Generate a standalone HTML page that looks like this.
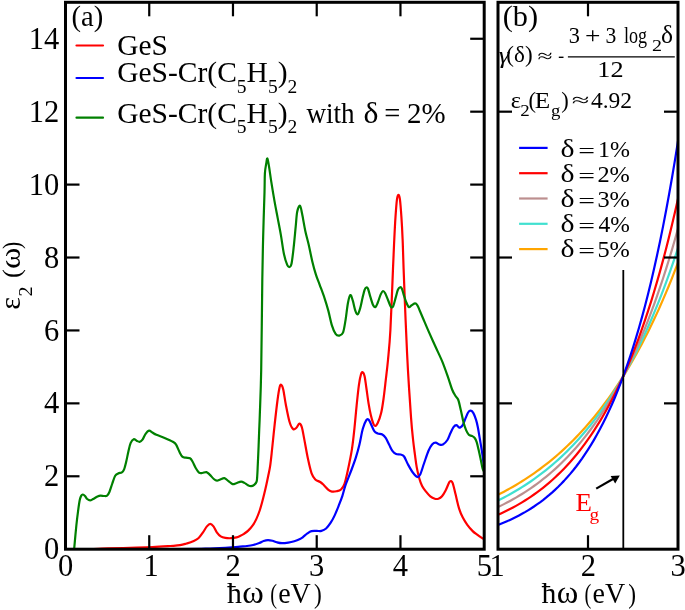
<!DOCTYPE html><html><head><meta charset="utf-8"><style>html,body{margin:0;padding:0;background:#fff;overflow:hidden}svg{display:block;will-change:transform}text{font-family:"Liberation Serif",serif}</style></head><body>
<svg width="685" height="610" viewBox="0 0 685 610">
<clipPath id="ca"><rect x="65.50" y="2.30" width="418.70" height="546.90"/></clipPath>
<g clip-path="url(#ca)" fill="none" stroke-width="2.2" stroke-linejoin="round" stroke-linecap="round">
<path stroke="#ff0000" d="M90.00,549.20 C92.98,549.07 101.23,548.63 107.90,548.40 C114.57,548.17 122.57,548.02 130.00,547.80 C137.43,547.58 145.82,547.40 152.50,547.10 C159.18,546.80 165.52,546.32 170.10,546.00 C174.68,545.68 177.25,545.62 180.00,545.20 C182.75,544.78 184.42,544.15 186.60,543.50 C188.78,542.85 191.13,542.18 193.10,541.30 C195.07,540.42 196.75,539.70 198.40,538.20 C200.05,536.70 201.58,534.27 203.00,532.30 C204.42,530.33 205.70,527.82 206.90,526.40 C208.10,524.98 209.10,523.80 210.20,523.80 C211.30,523.80 212.40,524.98 213.50,526.40 C214.60,527.82 215.60,530.65 216.80,532.30 C218.00,533.95 219.28,535.37 220.70,536.30 C222.12,537.23 223.55,537.58 225.30,537.90 C227.05,538.22 229.33,538.28 231.20,538.20 C233.07,538.12 235.03,537.77 236.50,537.40 C237.97,537.03 238.75,536.60 240.00,536.00 C241.25,535.40 242.63,534.70 244.00,533.80 C245.37,532.90 246.68,532.10 248.20,530.60 C249.72,529.10 251.73,526.75 253.10,524.80 C254.47,522.85 255.30,521.28 256.40,518.90 C257.50,516.52 258.75,513.27 259.70,510.50 C260.65,507.73 261.35,505.03 262.10,502.30 C262.85,499.57 263.50,496.98 264.20,494.10 C264.90,491.22 265.60,488.18 266.30,485.00 C267.00,481.82 267.75,478.23 268.40,475.00 C269.05,471.77 269.60,469.77 270.20,465.60 C270.80,461.43 271.25,456.90 272.00,450.00 C272.75,443.10 273.77,432.62 274.70,424.20 C275.63,415.78 276.78,405.67 277.60,399.50 C278.42,393.33 278.98,389.65 279.60,387.20 C280.22,384.75 280.68,384.38 281.30,384.80 C281.92,385.22 282.55,386.42 283.30,389.70 C284.05,392.98 284.77,399.17 285.80,404.50 C286.83,409.83 288.27,417.60 289.50,421.70 C290.73,425.80 292.05,428.08 293.20,429.10 C294.35,430.12 295.38,428.70 296.40,427.80 C297.42,426.90 298.40,423.82 299.30,423.70 C300.20,423.58 300.98,424.57 301.80,427.10 C302.62,429.63 303.18,433.65 304.20,438.90 C305.22,444.15 306.67,452.85 307.90,458.60 C309.13,464.35 310.37,469.92 311.60,473.40 C312.83,476.88 313.87,478.07 315.30,479.50 C316.73,480.93 318.77,481.05 320.20,482.00 C321.63,482.95 322.53,483.90 323.90,485.20 C325.27,486.50 327.07,488.73 328.40,489.80 C329.73,490.87 330.55,491.35 331.90,491.60 C333.25,491.85 334.98,491.65 336.50,491.30 C338.02,490.95 339.67,490.75 341.00,489.50 C342.33,488.25 343.35,487.05 344.50,483.80 C345.65,480.55 346.67,475.73 347.90,470.00 C349.13,464.27 350.82,456.27 351.90,449.40 C352.98,442.53 353.62,436.07 354.40,428.80 C355.18,421.53 355.85,413.07 356.60,405.80 C357.35,398.53 358.17,390.45 358.90,385.20 C359.63,379.95 360.37,376.45 361.00,374.30 C361.63,372.15 362.10,371.98 362.70,372.30 C363.30,372.62 364.00,373.67 364.60,376.20 C365.20,378.73 365.63,382.93 366.30,387.50 C366.97,392.07 367.85,399.02 368.60,403.60 C369.35,408.18 370.05,411.77 370.80,415.00 C371.55,418.23 372.40,421.17 373.10,423.00 C373.80,424.83 374.23,426.00 375.00,426.00 C375.77,426.00 376.67,425.22 377.70,423.00 C378.73,420.78 380.23,416.70 381.20,412.70 C382.17,408.70 382.75,404.35 383.50,399.00 C384.25,393.65 384.95,387.10 385.70,380.60 C386.45,374.10 387.22,368.43 388.00,360.00 C388.78,351.57 389.57,345.23 390.40,330.00 C391.23,314.77 392.35,283.77 393.00,268.60 C393.65,253.43 393.88,247.62 394.30,239.00 C394.72,230.38 395.05,223.53 395.50,216.90 C395.95,210.27 396.50,202.88 397.00,199.20 C397.50,195.52 398.02,194.80 398.50,194.80 C398.98,194.80 399.42,195.52 399.90,199.20 C400.38,202.88 400.95,210.27 401.40,216.90 C401.85,223.53 402.23,230.38 402.60,239.00 C402.97,247.62 403.10,255.10 403.60,268.60 C404.10,282.10 404.88,303.23 405.60,320.00 C406.32,336.77 406.98,352.80 407.90,369.20 C408.82,385.60 410.23,406.60 411.10,418.40 C411.97,430.20 412.47,434.00 413.10,440.00 C413.73,446.00 414.30,449.88 414.90,454.40 C415.50,458.92 415.95,463.03 416.70,467.10 C417.45,471.17 418.50,475.65 419.40,478.80 C420.30,481.95 421.03,483.90 422.10,486.00 C423.17,488.10 424.43,489.68 425.80,491.40 C427.17,493.12 428.80,495.08 430.30,496.30 C431.80,497.52 433.45,498.30 434.80,498.70 C436.15,499.10 437.20,499.10 438.40,498.70 C439.60,498.30 440.80,497.67 442.00,496.30 C443.20,494.93 444.40,492.82 445.60,490.50 C446.80,488.18 448.30,483.97 449.20,482.40 C450.10,480.83 450.40,480.95 451.00,481.10 C451.60,481.25 452.05,481.13 452.80,483.30 C453.55,485.47 454.45,489.88 455.50,494.10 C456.55,498.32 457.88,504.68 459.10,508.60 C460.32,512.52 461.43,514.90 462.80,517.60 C464.17,520.30 465.65,522.55 467.30,524.80 C468.95,527.05 471.05,529.45 472.70,531.10 C474.35,532.75 475.55,533.48 477.20,534.70 C478.85,535.92 481.52,537.68 482.60,538.40 C483.68,539.12 483.52,538.90 483.70,539.00"/>
<path stroke="#0000ff" d="M65.50,549.60 C84.58,549.52 155.92,549.28 180.00,549.10 C204.08,548.92 201.23,548.80 210.00,548.50 C218.77,548.20 227.60,547.62 232.60,547.30 C237.60,546.98 237.60,546.82 240.00,546.60 C242.40,546.38 244.82,546.27 247.00,546.00 C249.18,545.73 251.05,545.50 253.10,545.00 C255.15,544.50 257.55,543.67 259.30,543.00 C261.05,542.33 262.15,541.48 263.60,541.00 C265.05,540.52 266.53,540.13 268.00,540.10 C269.47,540.07 270.93,540.43 272.40,540.80 C273.87,541.17 275.20,541.90 276.80,542.30 C278.40,542.70 280.10,543.15 282.00,543.20 C283.90,543.25 286.15,542.93 288.20,542.60 C290.25,542.27 292.33,541.80 294.30,541.20 C296.27,540.60 298.60,539.65 300.00,539.00 C301.40,538.35 301.47,538.23 302.70,537.30 C303.93,536.37 305.93,534.43 307.40,533.40 C308.87,532.37 309.95,531.52 311.50,531.10 C313.05,530.68 315.05,530.93 316.70,530.90 C318.35,530.87 319.83,531.30 321.40,530.90 C322.97,530.50 324.55,529.87 326.10,528.50 C327.65,527.13 329.25,524.93 330.70,522.70 C332.15,520.47 333.43,518.02 334.80,515.10 C336.17,512.18 337.63,508.42 338.90,505.20 C340.17,501.98 341.28,499.18 342.40,495.80 C343.52,492.42 344.10,489.20 345.60,484.90 C347.10,480.60 349.68,474.58 351.40,470.00 C353.12,465.42 354.57,461.60 355.90,457.40 C357.23,453.20 358.25,449.57 359.40,444.80 C360.55,440.03 361.65,432.92 362.80,428.80 C363.95,424.68 365.33,421.63 366.30,420.10 C367.27,418.57 367.85,419.00 368.60,419.60 C369.35,420.20 369.85,421.78 370.80,423.70 C371.75,425.62 373.15,429.48 374.30,431.10 C375.45,432.72 376.37,432.83 377.70,433.40 C379.03,433.97 380.97,433.75 382.30,434.50 C383.63,435.25 384.55,436.18 385.70,437.90 C386.85,439.62 388.05,442.58 389.20,444.80 C390.35,447.02 391.45,449.67 392.60,451.20 C393.75,452.73 394.77,453.45 396.10,454.00 C397.43,454.55 399.27,454.08 400.60,454.50 C401.93,454.92 402.88,454.87 404.10,456.50 C405.32,458.13 406.45,461.63 407.90,464.30 C409.35,466.97 411.18,470.38 412.80,472.50 C414.42,474.62 416.35,476.70 417.60,477.00 C418.85,477.30 419.23,476.55 420.30,474.30 C421.37,472.05 422.63,467.42 424.00,463.50 C425.37,459.58 427.15,453.97 428.50,450.80 C429.85,447.63 430.90,445.85 432.10,444.50 C433.30,443.15 434.50,442.70 435.70,442.70 C436.90,442.70 438.10,444.20 439.30,444.50 C440.50,444.80 441.55,445.25 442.90,444.50 C444.25,443.75 446.13,441.92 447.40,440.00 C448.67,438.08 449.48,435.15 450.50,433.00 C451.52,430.85 452.53,428.40 453.50,427.10 C454.47,425.80 455.47,425.22 456.30,425.20 C457.13,425.18 457.85,426.62 458.50,427.00 C459.15,427.38 459.47,427.85 460.20,427.50 C460.93,427.15 462.02,426.42 462.90,424.90 C463.78,423.38 464.63,420.47 465.50,418.40 C466.37,416.33 467.23,413.78 468.10,412.50 C468.97,411.22 469.82,410.60 470.70,410.70 C471.58,410.80 472.52,411.60 473.40,413.10 C474.28,414.60 475.25,417.30 476.00,419.70 C476.75,422.10 477.25,424.23 477.90,427.50 C478.55,430.77 479.23,435.37 479.90,439.30 C480.57,443.23 481.35,447.60 481.90,451.10 C482.45,454.60 482.90,458.15 483.20,460.30 C483.50,462.45 483.62,463.38 483.70,464.00"/>
<path stroke="#008000" d="M74.20,548.60 C74.57,544.67 75.72,531.55 76.40,525.00 C77.08,518.45 77.73,513.52 78.30,509.30 C78.87,505.08 79.30,501.98 79.80,499.70 C80.30,497.42 80.80,496.47 81.30,495.60 C81.80,494.73 82.18,494.43 82.80,494.50 C83.42,494.57 84.27,495.25 85.00,496.00 C85.73,496.75 86.35,498.27 87.20,499.00 C88.05,499.73 89.12,500.40 90.10,500.40 C91.08,500.40 91.87,499.65 93.10,499.00 C94.33,498.35 96.27,497.07 97.50,496.50 C98.73,495.93 99.38,495.68 100.50,495.60 C101.62,495.52 103.10,496.00 104.20,496.00 C105.30,496.00 106.25,496.22 107.10,495.60 C107.95,494.98 108.43,494.32 109.30,492.30 C110.17,490.28 111.32,486.25 112.30,483.50 C113.28,480.75 114.22,477.48 115.20,475.80 C116.18,474.12 117.08,473.97 118.20,473.40 C119.32,472.83 120.92,473.07 121.90,472.40 C122.88,471.73 123.37,471.25 124.10,469.40 C124.83,467.55 125.57,464.37 126.30,461.30 C127.03,458.23 127.77,454.07 128.50,451.00 C129.23,447.93 129.83,444.87 130.70,442.90 C131.57,440.93 132.72,439.57 133.70,439.20 C134.68,438.83 135.62,440.27 136.60,440.70 C137.58,441.13 138.62,441.98 139.60,441.80 C140.58,441.62 141.50,440.93 142.50,439.60 C143.50,438.27 144.52,435.28 145.60,433.80 C146.68,432.32 147.88,430.92 149.00,430.70 C150.12,430.48 151.07,431.82 152.30,432.50 C153.53,433.18 154.35,433.88 156.40,434.80 C158.45,435.72 161.87,436.83 164.60,438.00 C167.33,439.17 170.88,440.70 172.80,441.80 C174.72,442.90 175.02,442.97 176.10,444.60 C177.18,446.23 178.27,449.60 179.30,451.60 C180.33,453.60 181.20,455.58 182.30,456.60 C183.40,457.62 184.62,457.43 185.90,457.70 C187.18,457.97 188.90,457.57 190.00,458.20 C191.10,458.83 191.55,459.87 192.50,461.50 C193.45,463.13 194.62,466.15 195.70,468.00 C196.78,469.85 197.90,471.77 199.00,472.60 C200.10,473.43 201.07,473.08 202.30,473.00 C203.53,472.92 205.17,471.83 206.40,472.10 C207.63,472.37 208.47,473.45 209.70,474.60 C210.93,475.75 212.58,477.98 213.80,479.00 C215.02,480.02 215.92,480.62 217.00,480.70 C218.08,480.78 219.07,479.92 220.30,479.50 C221.53,479.08 223.03,477.93 224.40,478.20 C225.77,478.47 227.13,480.12 228.50,481.10 C229.87,482.08 231.32,483.75 232.60,484.10 C233.88,484.45 234.78,483.62 236.20,483.20 C237.62,482.78 239.73,481.65 241.10,481.60 C242.47,481.55 243.30,482.32 244.40,482.90 C245.50,483.48 246.60,484.55 247.70,485.10 C248.80,485.65 249.92,486.25 251.00,486.20 C252.08,486.15 253.27,485.57 254.20,484.80 C255.13,484.03 256.08,483.23 256.60,481.60 C257.12,479.97 257.10,477.85 257.30,475.00 C257.50,472.15 257.58,469.30 257.80,464.50 C258.02,459.70 258.37,451.95 258.60,446.20 C258.83,440.45 259.00,435.20 259.20,430.00 C259.40,424.80 259.47,425.00 259.80,415.00 C260.13,405.00 260.78,392.53 261.20,370.00 C261.62,347.47 261.97,302.28 262.30,279.80 C262.63,257.32 262.83,249.63 263.20,235.10 C263.57,220.57 264.22,202.88 264.50,192.60 C264.78,182.32 264.62,178.20 264.90,173.40 C265.18,168.60 265.78,166.28 266.20,163.80 C266.62,161.32 266.92,157.97 267.40,158.50 C267.88,159.03 268.45,163.10 269.10,167.00 C269.75,170.90 270.40,176.22 271.30,181.90 C272.20,187.58 273.43,195.07 274.50,201.10 C275.57,207.13 276.63,212.43 277.70,218.10 C278.77,223.77 279.85,229.07 280.90,235.10 C281.95,241.13 282.95,249.33 284.00,254.30 C285.05,259.27 286.30,262.78 287.20,264.90 C288.10,267.02 288.68,267.18 289.40,267.00 C290.12,266.82 290.80,266.98 291.50,263.80 C292.20,260.62 292.90,254.10 293.60,247.90 C294.30,241.70 295.10,232.63 295.70,226.60 C296.30,220.57 296.48,215.18 297.20,211.70 C297.92,208.22 299.18,205.35 300.00,205.70 C300.82,206.05 301.22,209.60 302.10,213.80 C302.98,218.00 304.22,225.83 305.30,230.90 C306.38,235.97 307.43,239.12 308.60,244.20 C309.77,249.28 311.07,256.28 312.30,261.40 C313.53,266.52 314.77,271.00 316.00,274.90 C317.23,278.80 318.27,280.90 319.70,284.80 C321.13,288.70 323.17,294.00 324.60,298.30 C326.03,302.60 327.08,306.10 328.30,310.60 C329.52,315.10 330.68,321.42 331.90,325.30 C333.12,329.18 334.37,332.18 335.60,333.90 C336.83,335.62 338.07,335.80 339.30,335.60 C340.53,335.40 341.97,335.23 343.00,332.70 C344.03,330.17 344.68,325.32 345.50,320.40 C346.32,315.48 347.08,307.42 347.90,303.20 C348.72,298.98 349.58,295.52 350.40,295.10 C351.22,294.68 351.98,298.12 352.80,300.70 C353.62,303.28 354.48,308.33 355.30,310.60 C356.12,312.87 356.88,314.72 357.70,314.30 C358.52,313.88 359.40,310.82 360.20,308.10 C361.00,305.38 361.77,301.05 362.50,298.00 C363.23,294.95 363.97,291.55 364.60,289.80 C365.23,288.05 365.73,287.68 366.30,287.50 C366.87,287.32 367.33,287.17 368.00,288.70 C368.67,290.23 369.43,293.93 370.30,296.70 C371.17,299.47 372.33,303.58 373.20,305.30 C374.07,307.02 374.73,307.47 375.50,307.00 C376.27,306.53 376.93,304.60 377.80,302.50 C378.67,300.40 379.83,296.32 380.70,294.40 C381.57,292.48 382.25,291.18 383.00,291.00 C383.75,290.82 384.35,291.77 385.20,293.30 C386.05,294.83 387.13,297.92 388.10,300.20 C389.07,302.48 390.13,306.05 391.00,307.00 C391.87,307.95 392.53,307.42 393.30,305.90 C394.07,304.38 394.83,300.58 395.60,297.90 C396.37,295.22 397.13,291.58 397.90,289.80 C398.67,288.02 399.53,287.38 400.20,287.20 C400.87,287.02 401.33,287.50 401.90,288.70 C402.47,289.90 402.93,292.30 403.60,294.40 C404.27,296.50 405.03,299.20 405.90,301.30 C406.77,303.40 407.85,306.33 408.80,307.00 C409.75,307.67 410.55,305.90 411.60,305.30 C412.65,304.70 414.13,303.40 415.10,303.40 C416.07,303.40 416.63,304.12 417.40,305.30 C418.17,306.48 418.75,308.30 419.70,310.50 C420.65,312.70 421.65,315.10 423.10,318.50 C424.55,321.90 426.37,326.27 428.40,330.90 C430.43,335.53 432.98,341.18 435.30,346.30 C437.62,351.42 440.20,356.50 442.30,361.60 C444.40,366.70 446.27,372.25 447.90,376.90 C449.53,381.55 450.83,386.32 452.10,389.50 C453.37,392.68 454.47,394.25 455.50,396.00 C456.53,397.75 457.40,397.58 458.30,400.00 C459.20,402.42 460.03,406.78 460.90,410.50 C461.77,414.22 462.63,419.03 463.50,422.30 C464.37,425.57 465.22,428.03 466.10,430.10 C466.98,432.17 467.82,433.72 468.80,434.70 C469.78,435.68 471.02,435.45 472.00,436.00 C472.98,436.55 473.93,437.02 474.70,438.00 C475.47,438.98 475.95,439.93 476.60,441.90 C477.25,443.87 477.93,446.95 478.60,449.80 C479.27,452.65 479.95,455.93 480.60,459.00 C481.25,462.07 481.98,466.20 482.50,468.20 C483.02,470.20 483.50,470.53 483.70,471.00"/>
</g>
<clipPath id="cb"><rect x="498.00" y="2.30" width="180.00" height="546.90"/></clipPath>
<g clip-path="url(#cb)" fill="none" stroke-width="2.2" stroke-linejoin="round">
<polyline stroke="#ffa500" points="498.00,494.76 501.00,493.23 504.00,491.66 507.00,490.05 510.00,488.39 513.00,486.68 516.00,484.93 519.00,483.12 522.00,481.27 525.00,479.36 528.00,477.40 531.00,475.38 534.00,473.31 537.00,471.18 540.00,468.99 543.00,466.74 546.00,464.43 549.00,462.05 552.00,459.60 555.00,457.09 558.00,454.50 561.00,451.84 564.00,449.11 567.00,446.30 570.00,443.41 573.00,440.44 576.00,437.39 579.00,434.25 582.00,431.02 585.00,427.71 588.00,424.30 591.00,420.79 594.00,417.19 597.00,413.48 600.00,409.67 603.00,405.76 606.00,401.73 609.00,397.59 612.00,393.33 615.00,388.96 618.00,384.46 621.00,379.84 624.00,375.08 627.00,370.20 630.00,365.17 633.00,360.01 636.00,354.69 639.00,349.24 642.00,343.62 645.00,337.85 648.00,331.92 651.00,325.82 654.00,319.55 657.00,313.10 660.00,306.48 663.00,299.66 666.00,292.66 669.00,285.46 672.00,278.06 675.00,270.44 678.00,262.62"/>
<polyline stroke="#40e0d0" points="498.00,500.53 501.00,499.03 504.00,497.48 507.00,495.89 510.00,494.24 513.00,492.55 516.00,490.80 519.00,489.00 522.00,487.14 525.00,485.23 528.00,483.26 531.00,481.23 534.00,479.13 537.00,476.97 540.00,474.74 543.00,472.45 546.00,470.08 549.00,467.64 552.00,465.13 555.00,462.54 558.00,459.86 561.00,457.11 564.00,454.27 567.00,451.34 570.00,448.33 573.00,445.22 576.00,442.01 579.00,438.71 582.00,435.30 585.00,431.79 588.00,428.17 591.00,424.44 594.00,420.59 597.00,416.62 600.00,412.54 603.00,408.32 606.00,403.98 609.00,399.50 612.00,394.89 615.00,390.13 618.00,385.22 621.00,380.17 624.00,374.96 627.00,369.58 630.00,364.05 633.00,358.34 636.00,352.45 639.00,346.39 642.00,340.14 645.00,333.69 648.00,327.05 651.00,320.20 654.00,313.14 657.00,305.86 660.00,298.35 663.00,290.62 666.00,282.65 669.00,274.43 672.00,265.96 675.00,257.23 678.00,248.22"/>
<polyline stroke="#bc8f8f" points="498.00,507.07 501.00,505.62 504.00,504.12 507.00,502.57 510.00,500.97 513.00,499.31 516.00,497.59 519.00,495.81 522.00,493.98 525.00,492.08 528.00,490.11 531.00,488.08 534.00,485.98 537.00,483.80 540.00,481.55 543.00,479.23 546.00,476.82 549.00,474.33 552.00,471.75 555.00,469.09 558.00,466.33 561.00,463.48 564.00,460.53 567.00,457.48 570.00,454.33 573.00,451.06 576.00,447.69 579.00,444.19 582.00,440.58 585.00,436.84 588.00,432.98 591.00,428.98 594.00,424.84 597.00,420.57 600.00,416.14 603.00,411.56 606.00,406.83 609.00,401.93 612.00,396.86 615.00,391.62 618.00,386.20 621.00,380.59 624.00,374.79 627.00,368.79 630.00,362.59 633.00,356.17 636.00,349.53 639.00,342.66 642.00,335.55 645.00,328.20 648.00,320.60 651.00,312.73 654.00,304.60 657.00,296.18 660.00,287.48 663.00,278.48 666.00,269.16 669.00,259.53 672.00,249.56 675.00,239.25 678.00,228.59"/>
<polyline stroke="#ff0000" points="498.00,514.82 501.00,513.47 504.00,512.06 507.00,510.59 510.00,509.07 513.00,507.49 516.00,505.84 519.00,504.13 522.00,502.35 525.00,500.50 528.00,498.58 531.00,496.58 534.00,494.51 537.00,492.35 540.00,490.11 543.00,487.77 546.00,485.35 549.00,482.83 552.00,480.21 555.00,477.49 558.00,474.66 561.00,471.72 564.00,468.66 567.00,465.48 570.00,462.18 573.00,458.75 576.00,455.18 579.00,451.47 582.00,447.61 585.00,443.60 588.00,439.44 591.00,435.11 594.00,430.61 597.00,425.93 600.00,421.06 603.00,416.01 606.00,410.75 609.00,405.29 612.00,399.61 615.00,393.71 618.00,387.57 621.00,381.19 624.00,374.56 627.00,367.67 630.00,360.51 633.00,353.07 636.00,345.33 639.00,337.28 642.00,328.92 645.00,320.23 648.00,311.19 651.00,301.80 654.00,292.04 657.00,281.90 660.00,271.35 663.00,260.39 666.00,248.99 669.00,237.14 672.00,224.83 675.00,212.03 678.00,198.73"/>
<polyline stroke="#0000ff" points="498.00,524.92 501.00,523.75 504.00,522.53 507.00,521.24 510.00,519.90 513.00,518.48 516.00,517.01 519.00,515.46 522.00,513.83 525.00,512.13 528.00,510.34 531.00,508.47 534.00,506.51 537.00,504.45 540.00,502.30 543.00,500.04 546.00,497.67 549.00,495.19 552.00,492.59 555.00,489.86 558.00,487.01 561.00,484.01 564.00,480.87 567.00,477.58 570.00,474.13 573.00,470.52 576.00,466.73 579.00,462.76 582.00,458.60 585.00,454.23 588.00,449.66 591.00,444.87 594.00,439.84 597.00,434.58 600.00,429.06 603.00,423.27 606.00,417.21 609.00,410.85 612.00,404.19 615.00,397.20 618.00,389.88 621.00,382.21 624.00,374.17 627.00,365.74 630.00,356.91 633.00,347.65 636.00,337.94 639.00,327.77 642.00,317.11 645.00,305.93 648.00,294.21 651.00,281.93 654.00,269.06 657.00,255.57 660.00,241.43 663.00,226.61 666.00,211.08 669.00,194.80 672.00,177.73 675.00,159.84 678.00,141.09"/>
</g>
<line x1="623.3" y1="270" x2="623.3" y2="549.20" stroke="#000" stroke-width="1.8"/>
<line x1="596.2" y1="488.6" x2="613" y2="479" stroke="#000" stroke-width="2.2"/>
<polygon points="619.8,475.4 610.6,476.0 615.2,483.4" fill="#000"/>
<g fill="none" stroke="#000" stroke-width="3">
<rect x="65.50" y="2.30" width="418.70" height="546.90"/>
<rect x="498.00" y="2.30" width="180.00" height="546.90"/>
</g>
<g stroke="#000" stroke-width="2.2">
<line x1="149.24" y1="549.20" x2="149.24" y2="535.20"/>
<line x1="149.24" y1="2.30" x2="149.24" y2="16.30"/>
<line x1="232.98" y1="549.20" x2="232.98" y2="535.20"/>
<line x1="232.98" y1="2.30" x2="232.98" y2="16.30"/>
<line x1="316.72" y1="549.20" x2="316.72" y2="535.20"/>
<line x1="316.72" y1="2.30" x2="316.72" y2="16.30"/>
<line x1="400.46" y1="549.20" x2="400.46" y2="535.20"/>
<line x1="400.46" y1="2.30" x2="400.46" y2="16.30"/>
<line x1="65.50" y1="476.28" x2="79.50" y2="476.28"/>
<line x1="484.20" y1="476.28" x2="470.20" y2="476.28"/>
<line x1="65.50" y1="403.36" x2="79.50" y2="403.36"/>
<line x1="484.20" y1="403.36" x2="470.20" y2="403.36"/>
<line x1="65.50" y1="330.44" x2="79.50" y2="330.44"/>
<line x1="484.20" y1="330.44" x2="470.20" y2="330.44"/>
<line x1="65.50" y1="257.52" x2="79.50" y2="257.52"/>
<line x1="484.20" y1="257.52" x2="470.20" y2="257.52"/>
<line x1="65.50" y1="184.60" x2="79.50" y2="184.60"/>
<line x1="484.20" y1="184.60" x2="470.20" y2="184.60"/>
<line x1="484.20" y1="111.68" x2="470.20" y2="111.68"/>
<line x1="484.20" y1="38.76" x2="470.20" y2="38.76"/>
<line x1="588.00" y1="549.20" x2="588.00" y2="535.20"/>
<line x1="588.00" y1="2.30" x2="588.00" y2="16.30"/>
<line x1="498.00" y1="403.36" x2="512.00" y2="403.36"/>
<line x1="678.00" y1="403.36" x2="664.00" y2="403.36"/>
<line x1="498.00" y1="257.52" x2="512.00" y2="257.52"/>
<line x1="678.00" y1="257.52" x2="664.00" y2="257.52"/>
<line x1="498.00" y1="111.68" x2="512.00" y2="111.68"/>
<line x1="678.00" y1="111.68" x2="664.00" y2="111.68"/>
</g>
<text x="59.3" y="559.30" text-anchor="end" font-size="30.5">0</text>
<text x="59.3" y="486.38" text-anchor="end" font-size="30.5">2</text>
<text x="59.3" y="413.46" text-anchor="end" font-size="30.5">4</text>
<text x="59.3" y="340.54" text-anchor="end" font-size="30.5">6</text>
<text x="59.3" y="267.62" text-anchor="end" font-size="30.5">8</text>
<text x="59.3" y="194.70" text-anchor="end" font-size="30.5">10</text>
<text x="59.3" y="121.78" text-anchor="end" font-size="30.5">12</text>
<text x="59.3" y="48.86" text-anchor="end" font-size="30.5">14</text>
<text x="57.90" y="576.00" font-size="30.50" fill="#000" >0</text>
<text x="143.60" y="576.00" font-size="30.50" fill="#000" >1</text>
<text x="225.40" y="576.00" font-size="30.50" fill="#000" >2</text>
<text x="316.72" y="576" text-anchor="middle" font-size="30.5">3</text>
<text x="400.46" y="576" text-anchor="middle" font-size="30.5">4</text>
<text x="476.70" y="576.00" font-size="30.50" fill="#000" >5</text>
<text x="489.50" y="576.00" font-size="30.50" fill="#000" >1</text>
<text x="580.80" y="576.00" font-size="30.50" fill="#000" >2</text>
<text x="670.60" y="576.00" font-size="30.50" fill="#000" >3</text>
<text x="227.00" y="603.30" font-size="29.50" fill="#000" textLength="14.86" lengthAdjust="spacingAndGlyphs" >ħ</text>
<text x="242.33" y="603.30" font-size="30.50" fill="#000" textLength="21.53" lengthAdjust="spacingAndGlyphs" >ω</text>
<text x="270.16" y="603.30" font-size="27.30" fill="#000" textLength="6.76" lengthAdjust="spacingAndGlyphs" >(</text>
<text x="278.15" y="603.30" font-size="29.50" fill="#000" textLength="32.62" lengthAdjust="spacingAndGlyphs" >eV</text>
<text x="313.94" y="603.30" font-size="27.30" fill="#000" textLength="7.79" lengthAdjust="spacingAndGlyphs" >)</text>
<text x="541.40" y="603.30" font-size="29.50" fill="#000" textLength="14.86" lengthAdjust="spacingAndGlyphs" >ħ</text>
<text x="556.73" y="603.30" font-size="30.50" fill="#000" textLength="21.53" lengthAdjust="spacingAndGlyphs" >ω</text>
<text x="584.56" y="603.30" font-size="27.30" fill="#000" textLength="6.76" lengthAdjust="spacingAndGlyphs" >(</text>
<text x="592.55" y="603.30" font-size="29.50" fill="#000" textLength="32.62" lengthAdjust="spacingAndGlyphs" >eV</text>
<text x="628.34" y="603.30" font-size="27.30" fill="#000" textLength="7.79" lengthAdjust="spacingAndGlyphs" >)</text>
<g transform="translate(19.7,310) rotate(-90)">
<text x="0.34" y="0.00" font-size="28.50" fill="#000" textLength="12.69" lengthAdjust="spacingAndGlyphs" >ε</text>
<text x="13.54" y="11.80" font-size="19.00" fill="#000" textLength="10.09" lengthAdjust="spacingAndGlyphs" >2</text>
<text x="31.97" y="0.00" font-size="25.60" fill="#000" textLength="8.76" lengthAdjust="spacingAndGlyphs" >(</text>
<text x="41.00" y="0.00" font-size="29.50" fill="#000" textLength="21.36" lengthAdjust="spacingAndGlyphs" >ω</text>
<text x="61.06" y="0.00" font-size="25.60" fill="#000" textLength="7.18" lengthAdjust="spacingAndGlyphs" >)</text>
</g>
<text x="71.41" y="26.00" font-size="29.00" fill="#000" textLength="31.76" lengthAdjust="spacingAndGlyphs" >(a)</text>
<text x="502.65" y="26.00" font-size="29.00" fill="#000" textLength="35.34" lengthAdjust="spacingAndGlyphs" >(b)</text>
<g stroke-width="2.2" stroke-linecap="round">
<line x1="76.5" y1="45.5" x2="103" y2="45.5" stroke="#ff0000"/>
<line x1="76.5" y1="78" x2="103" y2="78" stroke="#0000ff"/>
<line x1="76.5" y1="117.7" x2="103" y2="117.7" stroke="#008000"/>
</g>
<g font-size="29.5" fill="#000">
<text x="117.20" y="55.30" font-size="29.50" fill="#000" textLength="50.59" lengthAdjust="spacingAndGlyphs" >GeS</text>
<text x="117.2" y="82.1">GeS-Cr(C<tspan font-size="19.5" dy="10.5">5</tspan><tspan dy="-10.5">H</tspan><tspan font-size="19.5" dy="10.5">5</tspan><tspan dy="-10.5">)</tspan><tspan font-size="19.5" dy="10.5">2</tspan></text>
<text x="117.2" y="122.6">GeS-Cr(C<tspan font-size="19.5" dy="10.5">5</tspan><tspan dy="-10.5">H</tspan><tspan font-size="19.5" dy="10.5">5</tspan><tspan dy="-10.5">)</tspan><tspan font-size="19.5" dy="10.5">2</tspan></text>
</g>
<text x="306.40" y="122.60" font-size="29.50" fill="#000" textLength="48.22" lengthAdjust="spacingAndGlyphs" >with</text>
<text x="363.62" y="122.60" font-size="29.50" fill="#000" textLength="14.95" lengthAdjust="spacingAndGlyphs" >δ</text>
<text x="384.33" y="122.60" font-size="29.50" fill="#000" textLength="16.09" lengthAdjust="spacingAndGlyphs" >=</text>
<text x="407.02" y="122.60" font-size="29.50" fill="#000" textLength="38.60" lengthAdjust="spacingAndGlyphs" >2%</text>
<text x="568.63" y="43.00" font-size="23.00" fill="#000" textLength="11.15" lengthAdjust="spacingAndGlyphs" >3</text>
<text x="585.11" y="43.00" font-size="23.00" fill="#000" textLength="15.44" lengthAdjust="spacingAndGlyphs" >+</text>
<text x="605.46" y="43.00" font-size="23.00" fill="#000" textLength="10.81" lengthAdjust="spacingAndGlyphs" >3</text>
<text x="624.01" y="43.00" font-size="23.00" fill="#000" textLength="23.09" lengthAdjust="spacingAndGlyphs" >log</text>
<text x="652.05" y="50.90" font-size="16.00" fill="#000" textLength="10.00" lengthAdjust="spacingAndGlyphs" >2</text>
<text x="660.98" y="43.00" font-size="25.00" fill="#000" textLength="12.02" lengthAdjust="spacingAndGlyphs" >δ</text>
<text x="597.32" y="77.40" font-size="23.00" fill="#000" textLength="26.22" lengthAdjust="spacingAndGlyphs" >12</text>
<text x="498.70" y="62.80" font-size="24.00" fill="#000" textLength="10.40" lengthAdjust="spacingAndGlyphs" font-style="italic">γ</text>
<text x="506.38" y="62.30" font-size="22.50" fill="#000" textLength="26.25" lengthAdjust="spacingAndGlyphs" >(δ)</text>
<text x="537.48" y="62.10" font-size="18.00" fill="#000" textLength="15.06" lengthAdjust="spacingAndGlyphs" >≈</text>
<line x1="558.8" y1="57.3" x2="563.5" y2="57.3" stroke="#000" stroke-width="1.4"/>
<line x1="567.9" y1="56.9" x2="674.8" y2="56.9" stroke="#000" stroke-width="1.4"/>
<text x="510.84" y="108.00" font-size="23.00" fill="#000" textLength="10.26" lengthAdjust="spacingAndGlyphs" >ε</text>
<text x="520.32" y="115.80" font-size="16.00" fill="#000" textLength="9.47" lengthAdjust="spacingAndGlyphs" >2</text>
<text x="528.60" y="108.00" font-size="22.50" fill="#000" >(</text>
<text x="534.70" y="108.00" font-size="23.00" fill="#000" textLength="15.45" lengthAdjust="spacingAndGlyphs" >E</text>
<text x="550.93" y="116.40" font-size="16.00" fill="#000" textLength="9.37" lengthAdjust="spacingAndGlyphs" >g</text>
<text x="561.30" y="108.00" font-size="22.50" fill="#000" >)</text>
<text x="571.81" y="106.30" font-size="18.00" fill="#000" textLength="17.65" lengthAdjust="spacingAndGlyphs" >≈</text>
<text x="590.90" y="108.00" font-size="23.00" fill="#000" textLength="41.18" lengthAdjust="spacingAndGlyphs" >4.92</text>
<g stroke-width="2.2">
<line x1="519.1" y1="147.90" x2="547.6" y2="147.90" stroke="#0000ff"/>
<line x1="519.1" y1="173.20" x2="547.6" y2="173.20" stroke="#ff0000"/>
<line x1="519.1" y1="198.50" x2="547.6" y2="198.50" stroke="#bc8f8f"/>
<line x1="519.1" y1="223.80" x2="547.6" y2="223.80" stroke="#40e0d0"/>
<line x1="519.1" y1="249.10" x2="547.6" y2="249.10" stroke="#ffa500"/>
</g>
<text x="560.61" y="157.20" font-size="25.00" fill="#000" textLength="14.02" lengthAdjust="spacingAndGlyphs" >δ</text>
<text x="578.15" y="157.70" font-size="22.00" fill="#000" textLength="16.75" lengthAdjust="spacingAndGlyphs" >=</text>
<text x="597.91" y="157.20" font-size="23.00" fill="#000" textLength="31.97" lengthAdjust="spacingAndGlyphs" >1%</text>
<text x="560.61" y="182.17" font-size="25.00" fill="#000" textLength="14.02" lengthAdjust="spacingAndGlyphs" >δ</text>
<text x="578.15" y="182.67" font-size="22.00" fill="#000" textLength="16.75" lengthAdjust="spacingAndGlyphs" >=</text>
<text x="597.44" y="182.17" font-size="23.00" fill="#000" textLength="32.45" lengthAdjust="spacingAndGlyphs" >2%</text>
<text x="560.61" y="207.14" font-size="25.00" fill="#000" textLength="14.02" lengthAdjust="spacingAndGlyphs" >δ</text>
<text x="578.15" y="207.64" font-size="22.00" fill="#000" textLength="16.75" lengthAdjust="spacingAndGlyphs" >=</text>
<text x="597.44" y="207.14" font-size="23.00" fill="#000" textLength="32.45" lengthAdjust="spacingAndGlyphs" >3%</text>
<text x="560.61" y="232.11" font-size="25.00" fill="#000" textLength="14.02" lengthAdjust="spacingAndGlyphs" >δ</text>
<text x="578.15" y="232.61" font-size="22.00" fill="#000" textLength="16.75" lengthAdjust="spacingAndGlyphs" >=</text>
<text x="598.50" y="232.11" font-size="23.00" fill="#000" textLength="31.37" lengthAdjust="spacingAndGlyphs" >4%</text>
<text x="560.61" y="257.08" font-size="25.00" fill="#000" textLength="14.02" lengthAdjust="spacingAndGlyphs" >δ</text>
<text x="578.15" y="257.58" font-size="22.00" fill="#000" textLength="16.75" lengthAdjust="spacingAndGlyphs" >=</text>
<text x="597.44" y="257.08" font-size="23.00" fill="#000" textLength="32.45" lengthAdjust="spacingAndGlyphs" >5%</text>
<text x="575.42" y="510.80" font-size="25.00" fill="#ff0000" textLength="16.44" lengthAdjust="spacingAndGlyphs" >E</text>
<text x="589.60" y="519.70" font-size="16.00" fill="#ff0000" textLength="9.60" lengthAdjust="spacingAndGlyphs" >g</text>
</svg></body></html>
